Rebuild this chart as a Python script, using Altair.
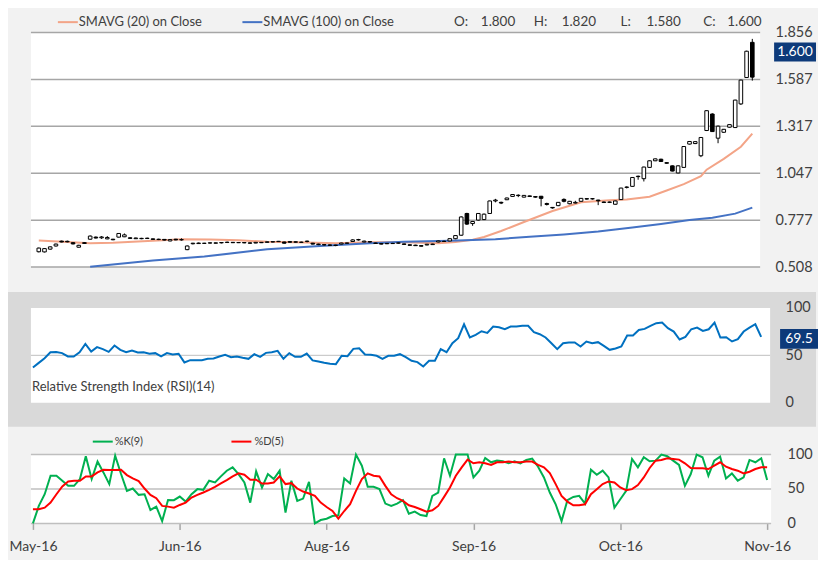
import altair as alt
import pandas as pd

FONT = "Lato"
TXT = "#404040"

# ---------------- data ----------------
opens = [
    0.596, 0.595, 0.611, 0.629, 0.657, 0.656, 0.648, 0.622, 0.648, 0.668,
    0.680, 0.676, 0.670, 0.668, 0.680, 0.682, 0.676, 0.671, 0.673, 0.672,
    0.670, 0.666, 0.667, 0.658, 0.668, 0.664, 0.608, 0.642, 0.643, 0.644,
    0.646, 0.645, 0.647, 0.649, 0.650, 0.648, 0.649, 0.647, 0.646, 0.650,
    0.650, 0.652, 0.654, 0.652, 0.650, 0.653, 0.651, 0.655, 0.645, 0.640,
    0.637, 0.635, 0.634, 0.640, 0.646, 0.655, 0.664, 0.652, 0.654, 0.646,
    0.643, 0.642, 0.644, 0.645, 0.641, 0.636, 0.634, 0.631, 0.635, 0.637,
    0.652, 0.655, 0.658, 0.671, 0.691, 0.816, 0.758, 0.778, 0.781, 0.816,
    0.888, 0.880, 0.895, 0.914, 0.921, 0.910, 0.917, 0.913, 0.915, 0.873,
    0.851, 0.861, 0.897, 0.872, 0.876, 0.886, 0.901, 0.901, 0.893, 0.882,
    0.880, 0.869, 0.896, 0.966, 0.972, 1.030, 1.016, 1.081, 1.119, 1.128,
    1.108, 1.090, 1.049, 1.081, 1.215, 1.218, 1.148, 1.293, 1.388, 1.249,
    1.283, 1.312, 1.310, 1.446, 1.598, 1.800]
highs = [
    0.620, 0.617, 0.627, 0.643, 0.660, 0.660, 0.651, 0.636, 0.651, 0.690,
    0.684, 0.686, 0.686, 0.670, 0.703, 0.701, 0.679, 0.677, 0.676, 0.677,
    0.672, 0.671, 0.669, 0.668, 0.670, 0.673, 0.632, 0.647, 0.649, 0.647,
    0.649, 0.649, 0.651, 0.654, 0.652, 0.652, 0.651, 0.649, 0.652, 0.652,
    0.655, 0.656, 0.658, 0.654, 0.657, 0.655, 0.654, 0.660, 0.647, 0.642,
    0.640, 0.638, 0.636, 0.648, 0.648, 0.668, 0.670, 0.660, 0.657, 0.648,
    0.645, 0.646, 0.647, 0.649, 0.643, 0.638, 0.636, 0.633, 0.641, 0.642,
    0.660, 0.660, 0.673, 0.692, 0.800, 0.820, 0.773, 0.818, 0.816, 0.890,
    0.900, 0.884, 0.907, 0.927, 0.926, 0.922, 0.919, 0.915, 0.917, 0.878,
    0.853, 0.882, 0.903, 0.888, 0.889, 0.905, 0.904, 0.904, 0.895, 0.885,
    0.884, 0.890, 0.964, 0.972, 1.025, 1.034, 1.085, 1.121, 1.132, 1.131,
    1.110, 1.092, 1.093, 1.203, 1.232, 1.232, 1.255, 1.409, 1.392, 1.322,
    1.302, 1.329, 1.470, 1.585, 1.752, 1.820]
lows = [
    0.592, 0.592, 0.608, 0.626, 0.650, 0.650, 0.638, 0.620, 0.642, 0.665,
    0.672, 0.670, 0.668, 0.662, 0.678, 0.680, 0.670, 0.669, 0.668, 0.669,
    0.665, 0.663, 0.661, 0.656, 0.662, 0.660, 0.605, 0.638, 0.641, 0.641,
    0.643, 0.643, 0.644, 0.646, 0.646, 0.646, 0.645, 0.643, 0.645, 0.646,
    0.648, 0.650, 0.652, 0.643, 0.648, 0.649, 0.648, 0.650, 0.638, 0.634,
    0.632, 0.630, 0.628, 0.638, 0.642, 0.653, 0.660, 0.650, 0.649, 0.641,
    0.638, 0.640, 0.641, 0.642, 0.636, 0.631, 0.629, 0.626, 0.633, 0.635,
    0.650, 0.653, 0.656, 0.668, 0.688, 0.750, 0.745, 0.775, 0.778, 0.814,
    0.880, 0.870, 0.893, 0.912, 0.910, 0.908, 0.911, 0.907, 0.857, 0.862,
    0.844, 0.858, 0.880, 0.869, 0.874, 0.884, 0.896, 0.896, 0.864, 0.876,
    0.876, 0.867, 0.894, 0.960, 0.970, 1.010, 1.000, 1.079, 1.117, 1.112,
    1.102, 1.058, 1.047, 1.079, 1.213, 1.215, 1.140, 1.290, 1.285, 1.220,
    1.280, 1.310, 1.308, 1.440, 1.595, 1.580]
closes = [
    0.617, 0.614, 0.624, 0.640, 0.652, 0.653, 0.641, 0.633, 0.644, 0.686,
    0.675, 0.681, 0.678, 0.665, 0.701, 0.693, 0.673, 0.675, 0.671, 0.674,
    0.667, 0.668, 0.663, 0.666, 0.664, 0.666, 0.629, 0.645, 0.646, 0.645,
    0.647, 0.647, 0.649, 0.651, 0.648, 0.649, 0.647, 0.645, 0.650, 0.648,
    0.653, 0.654, 0.656, 0.645, 0.655, 0.651, 0.650, 0.657, 0.640, 0.637,
    0.635, 0.633, 0.632, 0.646, 0.645, 0.664, 0.666, 0.657, 0.652, 0.644,
    0.640, 0.644, 0.643, 0.647, 0.638, 0.633, 0.631, 0.628, 0.639, 0.640,
    0.658, 0.656, 0.671, 0.689, 0.796, 0.755, 0.770, 0.816, 0.812, 0.888,
    0.893, 0.876, 0.905, 0.925, 0.919, 0.920, 0.914, 0.910, 0.903, 0.868,
    0.848, 0.880, 0.886, 0.886, 0.880, 0.903, 0.899, 0.900, 0.889, 0.879,
    0.882, 0.888, 0.962, 0.968, 1.023, 1.028, 1.083, 1.119, 1.130, 1.115,
    1.105, 1.060, 1.090, 1.201, 1.230, 1.229, 1.253, 1.407, 1.287, 1.318,
    1.300, 1.327, 1.468, 1.583, 1.749, 1.600]

sma20_idx = [0, 5, 9, 13, 20, 25, 30, 35, 40, 45, 52, 58, 64, 70, 73, 76, 78, 81, 85, 90,
             95, 100, 103, 107, 110, 113, 116, 117, 120, 123, 125]
sma20_val = [0.660, 0.652, 0.645, 0.648, 0.659, 0.668, 0.666, 0.662, 0.653, 0.650,
             0.645, 0.650, 0.650, 0.645, 0.652, 0.665, 0.681, 0.715, 0.767, 0.830,
             0.880, 0.892, 0.896, 0.912, 0.948, 0.985, 1.030, 1.068, 1.130, 1.200, 1.275]

sma100_idx = [9, 20, 29, 40, 50, 58, 64, 72, 80, 86, 92, 98, 104, 109, 114, 118, 122, 125]
sma100_val = [0.510, 0.545, 0.568, 0.610, 0.630, 0.645, 0.654, 0.659, 0.668, 0.682,
              0.695, 0.712, 0.735, 0.756, 0.778, 0.792, 0.815, 0.850]

rsi = [
    37.2, 42.0, 47.0, 53.3, 53.5, 52.3, 48.8, 48.8, 53.3, 62.1,
    54.0, 58.6, 56.5, 53.7, 60.4, 55.8, 53.3, 55.1, 53.0, 53.3,
    51.6, 52.3, 48.8, 52.3, 50.9, 51.6, 42.5, 44.9, 44.9, 44.9,
    46.3, 46.7, 48.8, 50.5, 48.1, 48.8, 47.4, 46.3, 51.2, 48.4,
    52.6, 53.3, 54.7, 46.3, 52.3, 48.4, 48.4, 51.9, 44.6, 43.5,
    42.1, 41.1, 40.7, 49.5, 49.1, 56.8, 57.5, 50.9, 50.5, 49.5,
    46.3, 49.5, 49.5, 51.2, 48.0, 44.2, 42.8, 38.2, 44.2, 44.2,
    56.5, 53.3, 62.8, 68.1, 82.8, 68.8, 71.6, 75.4, 73.7, 80.4,
    79.6, 77.5, 80.4, 80.4, 81.1, 81.1, 74.4, 72.3, 68.8, 62.8,
    56.5, 62.8, 63.5, 63.5, 59.3, 64.6, 62.8, 63.9, 60.0, 55.8,
    57.2, 59.3, 70.9, 70.9, 76.8, 77.9, 81.1, 83.9, 84.6, 78.6,
    75.1, 66.7, 69.5, 77.5, 79.3, 75.8, 77.5, 84.6, 68.8, 69.1,
    64.6, 67.0, 75.1, 79.3, 82.8, 69.5]

stoch_k = [
    0, 25.4, 42.4, 69.3, 69.3, 62.0, 54.6, 54.6, 64.4, 97.6,
    64.4, 89.8, 74.1, 57.1, 98.5, 71.7, 47.3, 50.7, 41.5, 42.4,
    19.5, 24.4, 3.4, 34.1, 33.7, 39.0, 31.7, 42.4, 49.8, 48.8,
    62.0, 59.5, 68.3, 76.6, 81.5, 71.7, 59.5, 30.2, 75.6, 52.2,
    71.7, 64.4, 76.6, 15.6, 62.0, 32.7, 36.1, 60.5, 0, 4.9,
    6.8, 10.7, 11.7, 65.4, 58.0, 100, 83.9, 53.2, 53.2, 49.8,
    28.8, 25.4, 28.8, 33.7, 14.1, 17.1, 12.2, 10.7, 40.0, 44.9,
    94.6, 69.3, 100, 100, 100, 66.8, 76.6, 95.1, 88.8, 91.2,
    90.2, 87.3, 90.2, 87.3, 92.2, 94.1, 82.4, 66.8, 44.9, 27.8,
    3.4, 33.7, 38.5, 40.0, 28.8, 78.0, 70.7, 76.6, 66.8, 22.9,
    35.1, 47.3, 93.7, 81.5, 96.1, 90.2, 91.2, 100, 97.6, 91.2,
    84.9, 54.6, 71.7, 100, 96.1, 69.3, 91.2, 97.1, 65.4, 72.7,
    62.0, 66.8, 92.2, 88.8, 94.6, 62.9]
stoch_d = [
    20.5, 20.5, 22.9, 30.2, 42.4, 53.7, 61.0, 62.0, 62.0, 68.3,
    68.3, 74.1, 78.0, 77.6, 77.6, 78.0, 70.2, 65.4, 61.5, 50.7,
    41.5, 36.6, 25.4, 24.4, 22.9, 26.8, 30.2, 37.6, 41.5, 44.9,
    48.8, 53.2, 58.0, 62.9, 68.3, 72.7, 70.7, 63.4, 63.4, 58.0,
    58.0, 59.5, 68.3, 57.1, 58.5, 50.7, 46.3, 43.4, 40.0, 30.2,
    23.9, 18.0, 6.8, 18.0, 27.8, 47.3, 64.4, 72.7, 69.3, 68.3,
    54.6, 42.4, 36.6, 32.7, 26.3, 23.9, 20.5, 17.1, 19.0, 25.4,
    38.5, 52.2, 69.3, 81.5, 92.7, 87.3, 88.8, 87.3, 84.9, 88.8,
    88.8, 89.8, 88.8, 88.8, 89.8, 89.8, 84.9, 81.5, 73.2, 57.1,
    40.0, 31.7, 26.3, 26.3, 27.8, 42.4, 49.8, 57.1, 61.0, 59.5,
    52.2, 48.3, 49.8, 55.6, 66.8, 80.5, 91.2, 92.2, 94.6, 93.7,
    92.7, 87.3, 80.5, 80.0, 80.0, 79.0, 83.9, 88.8, 82.4, 79.0,
    76.6, 72.7, 75.1, 79.0, 81.5, 81.5]

price_ticks = [0.508, 0.777, 1.047, 1.317, 1.587, 1.856]
osc_ticks = [0, 50, 100]
rsi_grid = [50]
tick_index = [0, 25, 50, 75, 100, 125]
tick_labels = ["May-16", "Jun-16", "Aug-16", "Sep-16", "Oct-16", "Nov-16"]

n = len(closes)
for arr in (opens, highs, lows, rsi, stoch_k, stoch_d):
    assert len(arr) == n, len(arr)

idx = list(range(n))
price_df = pd.DataFrame({"i": idx, "open": opens, "high": highs, "low": lows, "close": closes})
sma20_df = pd.DataFrame({"i": sma20_idx, "v": sma20_val})
sma100_df = pd.DataFrame({"i": sma100_idx, "v": sma100_val})
rsi_df = pd.DataFrame({"i": idx, "v": rsi})
k_df = pd.DataFrame({"i": idx, "v": stoch_k})
d_df = pd.DataFrame({"i": idx, "v": stoch_d})
ONE = pd.DataFrame({"k": [0]})

# ---------------- helpers ----------------
def txt(s, x, y, size=13, color=TXT, align="left"):
    return alt.Chart(ONE).mark_text(align=align, baseline="middle", font=FONT,
                                    fontSize=size, color=color).encode(
        x=alt.value(x), y=alt.value(y), text=alt.value(s))

def hline(x1, x2, y, color, width):
    return alt.Chart(ONE).mark_rule(color=color, strokeWidth=width).encode(
        x=alt.value(x1), x2=alt.value(x2), y=alt.value(y))

def box(x1, x2, y1, y2, color, opacity=1.0):
    return alt.Chart(ONE).mark_rect(color=color, opacity=opacity).encode(
        x=alt.value(x1), x2=alt.value(x2), y=alt.value(y1), y2=alt.value(y2))

def yaxis(vals, fmt, pad):
    return alt.Axis(orient="right", values=vals, format=fmt, title=None, ticks=False,
                    domain=False, grid=False, labelFont=FONT, labelFontSize=14.5,
                    labelColor=TXT, labelPadding=pad, zindex=1, labelOverlap=False)

NAVY = "#0d3a7a"

# ---------------- price panel ----------------
PW, PH = 731, 235
xs_p = alt.Scale(domain=[-0.5, 125.5], nice=False, zero=False)
ys_p = alt.Scale(domain=[price_ticks[0], price_ticks[-1]], nice=False, zero=False)
YA_P = yaxis(price_ticks, ".3f", 15)
XP = alt.X("i:Q", scale=xs_p, axis=None)

p_grid = alt.Chart(pd.DataFrame({"v": price_ticks})).mark_rule(
    color="#a6a6a6", strokeWidth=1.5).encode(
    y=alt.Y("v:Q", scale=ys_p, axis=YA_P), x=alt.value(0), x2=alt.value(PW))
p_sma20 = alt.Chart(sma20_df).mark_line(color="#f3a487", strokeWidth=2).encode(
    x=XP, y=alt.Y("v:Q", scale=ys_p, axis=YA_P))
p_sma100 = alt.Chart(sma100_df).mark_line(color="#4472c4", strokeWidth=2).encode(
    x=XP, y=alt.Y("v:Q", scale=ys_p, axis=YA_P))
p_wick = alt.Chart(price_df).mark_rule(color="black", strokeWidth=1).encode(
    x=XP, y=alt.Y("low:Q", scale=ys_p, axis=YA_P), y2="high:Q")
p_body = alt.Chart(price_df).transform_calculate(
    dir="datum.close >= datum.open ? 'up' : 'down'").mark_bar(
    size=3.6, stroke="black", strokeWidth=1).encode(
    x=XP, y=alt.Y("open:Q", scale=ys_p, axis=YA_P), y2="close:Q",
    fill=alt.Fill("dir:N", scale=alt.Scale(domain=["up", "down"], range=["white", "black"]),
                  legend=None))

last_o, last_h, last_l, last_c = opens[-1], highs[-1], lows[-1], closes[-1]
ohlc_layers = []
for lab, val, xl, xv in [("O:", last_o, 424, 451), ("H:", last_h, 504, 532),
                         ("L:", last_l, 591, 617), ("C:", last_c, 674, 698)]:
    ohlc_layers.append(txt(lab, xl, -11, 13.5))
    ohlc_layers.append(txt(f"{val:.3f}", xv, -11, 13.5))

price = alt.layer(
    box(-23, 787, -24, 528, "#f2f2f2", 0.0),
    box(0, PW, 0, PH, "white"),
    p_grid, p_sma20, p_sma100, p_wick, p_body,
    hline(27, 47, -10.5, "#f3a487", 2), txt("SMAVG (20) on Close", 48, -10.5),
    hline(212, 232, -10.5, "#4472c4", 2), txt("SMAVG (100) on Close", 233, -10.5),
    *ohlc_layers,
    box(745, 787, 10, 29, NAVY),
    txt(f"{last_c:.3f}", 766, 19.5, 14, "white", "center"),
).properties(width=PW, height=PH)

# ---------------- RSI panel ----------------
RW, RH = 741, 106
RPLOT = 95
xs_r = alt.Scale(domain=[-0.342, 126.54], nice=False, zero=False)
ys_r = alt.Scale(domain=[-100 * (RH - RPLOT) / RPLOT, 100], nice=False, zero=False)
YA_R = yaxis(osc_ticks, "d", 15)
XR = alt.X("i:Q", scale=xs_r, axis=None)

r_grid = alt.Chart(pd.DataFrame({"v": rsi_grid})).mark_rule(
    color="#bfbfbf", strokeWidth=1).encode(
    y=alt.Y("v:Q", scale=ys_r, axis=YA_R), x=alt.value(0), x2=alt.value(RW))
r_line = alt.Chart(rsi_df).mark_line(color="#0070c0", strokeWidth=2).encode(
    x=XR, y=alt.Y("v:Q", scale=ys_r, axis=YA_R))

rsi_chart = alt.layer(
    box(-23, 787, -16, 119, "#d9d9d9"),
    box(0, RW, 0, RPLOT, "white"),
    r_grid, r_line,
    txt("Relative Strength Index (RSI)(14)", 1, 79, 13),
    box(751, 789, 21, 41, NAVY),
    txt(f"{rsi[-1]:.1f}", 770, 31.5, 14, "white", "center"),
).properties(width=RW, height=RH)

# ---------------- Stochastic panel ----------------
SW, SH = 742, 69
xs_s = alt.Scale(domain=[-0.34, 125.68], nice=False, zero=False)
ys_s = alt.Scale(domain=[0, 100], nice=False, zero=False)
YA_S = yaxis(osc_ticks, "d", 16)
label_expr = " : ".join(f"datum.value == {t} ? '{l}'" for t, l in zip(tick_index, tick_labels)) + " : ''"
XA_S = alt.Axis(values=tick_index, labelExpr=label_expr, title=None, grid=False, domain=False,
                ticks=True, tickSize=6, tickColor="#a6a6a6", tickWidth=1.5,
                labelFont=FONT, labelFontSize=14, labelColor=TXT, labelPadding=10,
                labelOverlap=False, labelFlush=False)
XS = alt.X("i:Q", scale=xs_s, axis=XA_S)

s_grid = alt.Chart(pd.DataFrame({"v": osc_ticks})).mark_rule(
    color="#bfbfbf", strokeWidth=1.5).encode(
    y=alt.Y("v:Q", scale=ys_s, axis=YA_S), x=alt.value(0), x2=alt.value(SW))
s_k = alt.Chart(k_df).mark_line(color="#00b050", strokeWidth=2).encode(
    x=XS, y=alt.Y("v:Q", scale=ys_s, axis=YA_S))
s_d = alt.Chart(d_df).mark_line(color="#ff0000", strokeWidth=2).encode(
    x=XS, y=alt.Y("v:Q", scale=ys_s, axis=YA_S))

stoch = alt.layer(
    box(0, SW, 0, SH, "white"),
    s_grid, s_k, s_d,
    hline(62, 82, -13, "#00b050", 2), txt("%K(9)", 84, -13, 11),
    hline(201, 221, -13, "#ff0000", 2), txt("%D(5)", 224, -13, 11),
).properties(width=SW, height=SH)

chart = alt.vconcat(price, rsi_chart, stoch, spacing=41, bounds="flush").properties(
    padding=0, background="#f2f2f2"
).configure_view(strokeWidth=0)

chart.save("out.html", embed_options={"renderer": "svg", "actions": False})
